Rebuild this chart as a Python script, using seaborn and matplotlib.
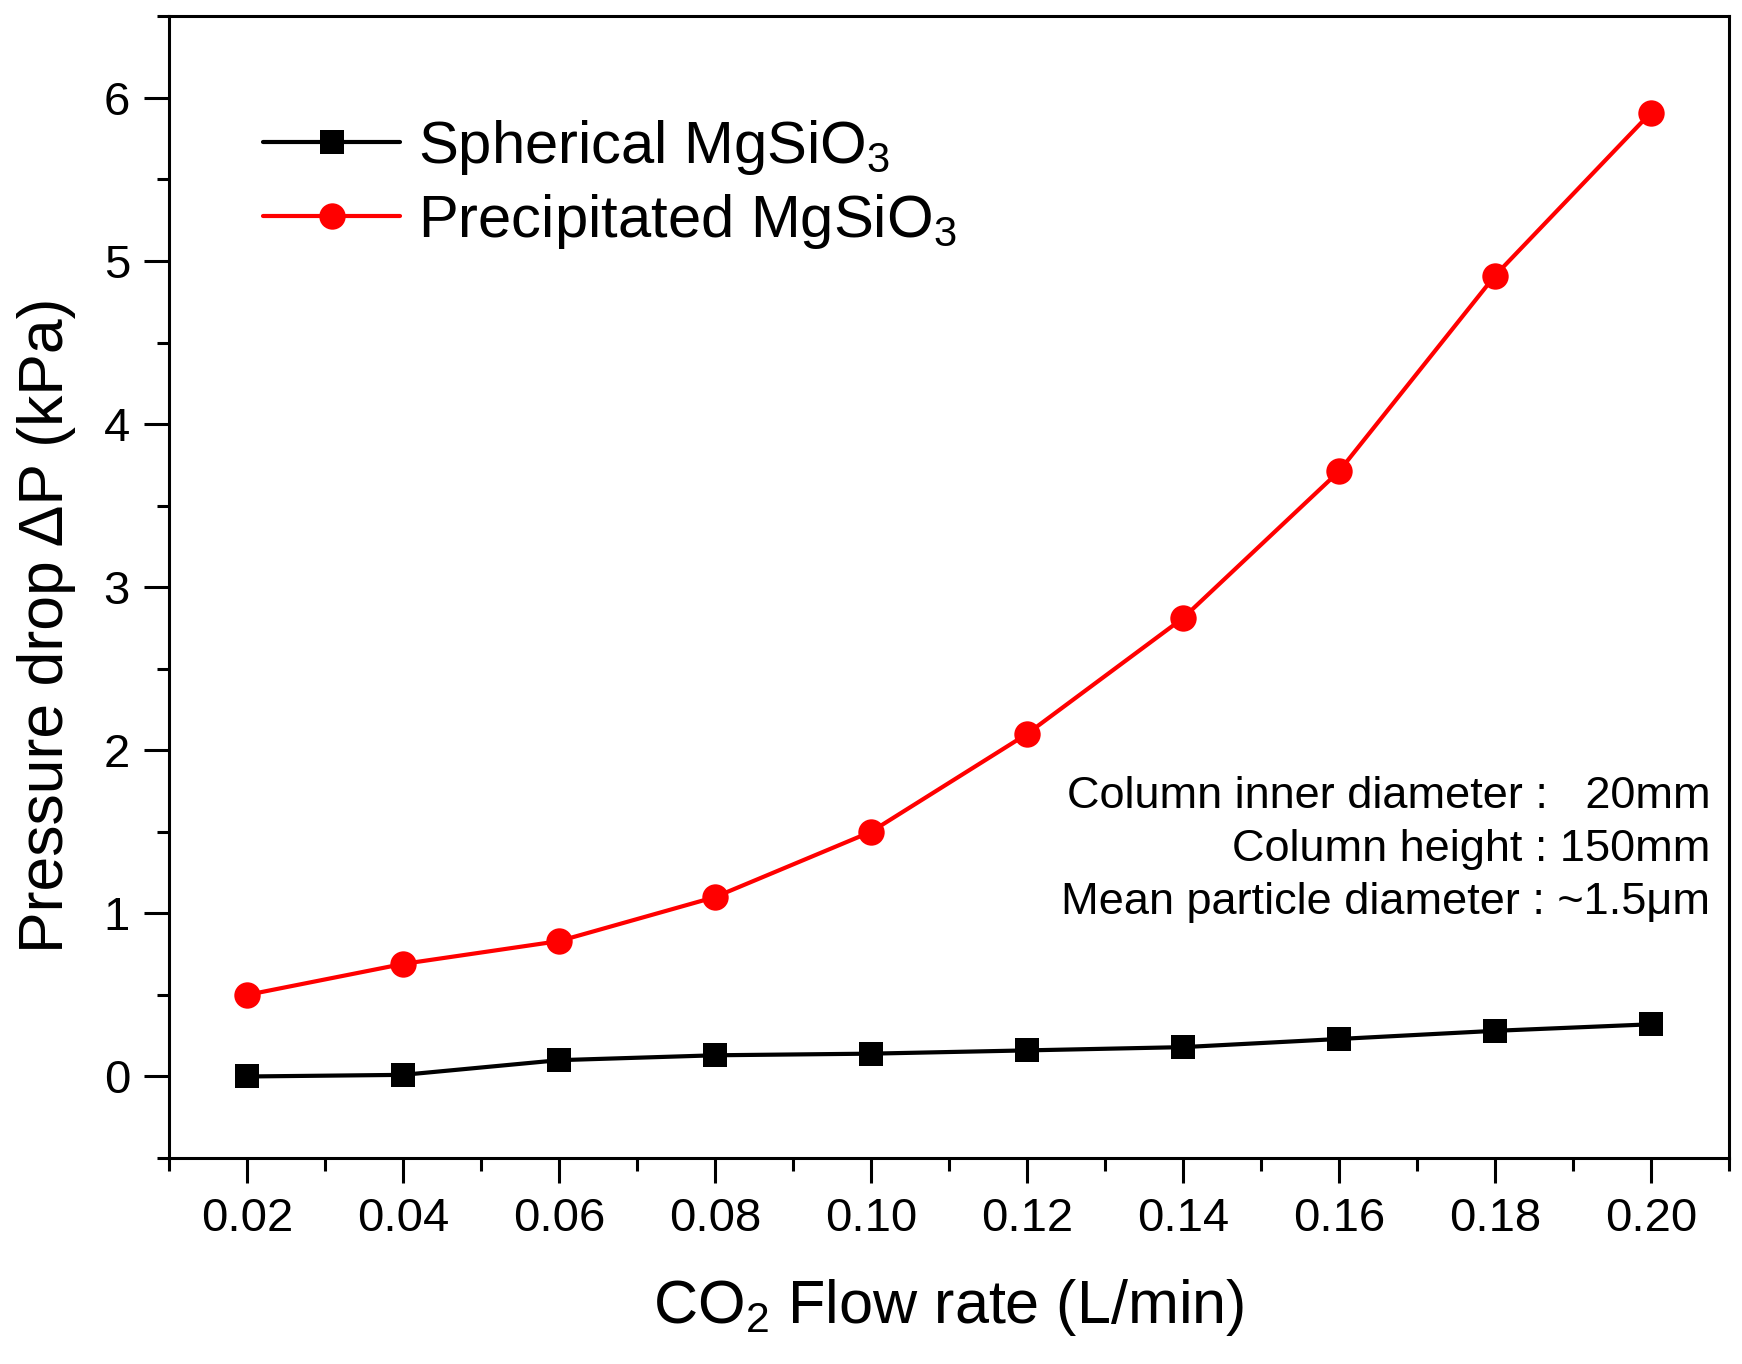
import pandas as pd
import seaborn as sns
import matplotlib.pyplot as plt
from matplotlib.ticker import MultipleLocator

# data
flow_rate = [0.02, 0.04, 0.06, 0.08, 0.10, 0.12, 0.14, 0.16, 0.18, 0.20]
spherical = [0.0, 0.01, 0.10, 0.13, 0.14, 0.16, 0.18, 0.23, 0.28, 0.32]
precipitated = [0.50, 0.69, 0.83, 1.10, 1.50, 2.10, 2.81, 3.71, 4.91, 5.91]
x_ticks = [0.02, 0.04, 0.06, 0.08, 0.10, 0.12, 0.14, 0.16, 0.18, 0.20]
x_ticklabels = ['0.02', '0.04', '0.06', '0.08', '0.10', '0.12', '0.14', '0.16', '0.18', '0.20']
y_ticks = [0, 1, 2, 3, 4, 5, 6]
notes = ['Column inner diameter :   20mm', 'Column height : 150mm', 'Mean particle diameter : ~1.5μm']

df = pd.DataFrame({'x': flow_rate, 'sph': spherical, 'pre': precipitated})

sns.set_style('ticks')
plt.rcParams['font.family'] = ['Liberation Sans', 'DejaVu Sans']
plt.rcParams['mathtext.fontset'] = 'custom'
plt.rcParams['mathtext.rm'] = 'Liberation Sans'
plt.rcParams['mathtext.it'] = 'Liberation Sans'
plt.rcParams['mathtext.default'] = 'rm'
plt.rcParams['text.color'] = 'black'
plt.rcParams['axes.labelcolor'] = 'black'
plt.rcParams['xtick.color'] = 'black'
plt.rcParams['ytick.color'] = 'black'

fig = plt.figure(figsize=(17.42, 13.64), dpi=100)
ax = fig.add_axes([0.097, 0.151, 0.8955, 0.837])

sns.lineplot(data=df, x='x', y='sph', ax=ax, color='black', marker='s', markersize=17,
             markeredgewidth=0, linewidth=3, label=r'Spherical MgSiO$_3$')
sns.lineplot(data=df, x='x', y='pre', ax=ax, color='#ff0000', marker='o', markersize=19,
             markeredgewidth=0, linewidth=3, label=r'Precipitated MgSiO$_3$')

ax.set_xlim(0.01, 0.21)
ax.set_ylim(-0.5, 6.5)
ax.set_xticks(x_ticks)
ax.set_xticklabels(x_ticklabels)
ax.set_yticks(y_ticks)
ax.xaxis.set_minor_locator(MultipleLocator(0.01))
ax.yaxis.set_minor_locator(MultipleLocator(0.5))
ax.tick_params(which='major', length=18, width=2.2, labelsize=34, pad=10, direction='out')
ax.tick_params(which='minor', length=9, width=2.2, direction='out')
for s in ax.spines.values():
    s.set_linewidth(2.2)
    s.set_color('black')

ax.set_xlabel(r'CO$_2$ Flow rate (L/min)', fontsize=44, labelpad=26)
ax.set_ylabel('Pressure drop ΔP (kPa)', fontsize=45, labelpad=20, y=0.467)

ax.legend(loc='upper left', bbox_to_anchor=(0.045, 0.932), frameon=False, fontsize=43,
          handlelength=2.3, handletextpad=0.3, labelspacing=0.25, borderaxespad=0)

ax.text(0.988, 0.270, '\n'.join(notes), transform=ax.transAxes, ha='right', va='center',
        multialignment='right', fontsize=32.5, linespacing=1.38)

plt.savefig('out.png', dpi=100)
plt.close()
